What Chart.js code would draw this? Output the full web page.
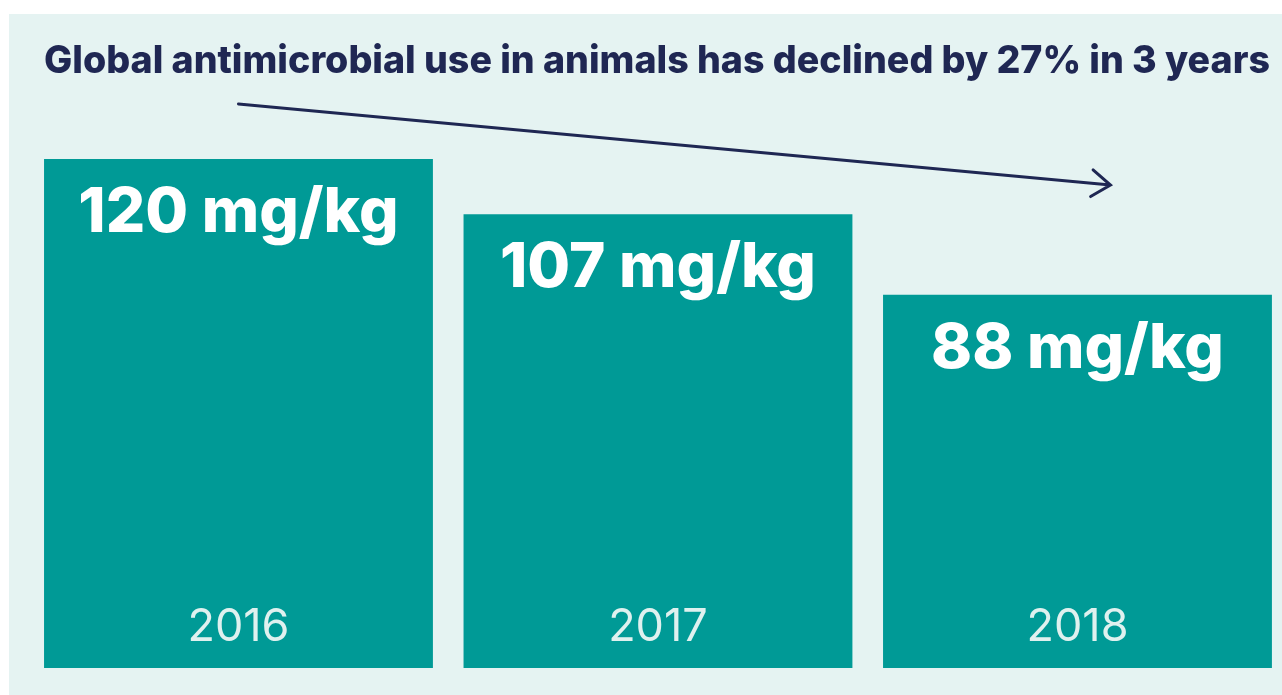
<!DOCTYPE html>
<html>
<head>
<meta charset="utf-8">
<script src="https://cdn.jsdelivr.net/npm/chart.js@4"></script>
<style>
  html, body { margin: 0; padding: 0; background: #ffffff; overflow: hidden; }
  #wrap { width: 1282px; height: 695px; position: relative; }
</style>
</head>
<body>
<div id="wrap"><canvas id="amuChart"></canvas></div>
<script>
const years = ["2016", "2017", "2018"];
const values = [120, 107, 88];
const unit = "mg/kg";
const title = "Global antimicrobial use in animals has declined by 27% in 3 years";

const navy = "#1f2753";
const teal = "#009a96";
const panel = "#e5f3f2";

// background panel, title, arrow and labels inside the bars
const decor = {
    id: "decor",
    beforeDraw(chart) {
        const ctx = chart.ctx;
        ctx.save();
        ctx.fillStyle = panel;
        ctx.fillRect(9, 14, chart.width - 9, chart.height - 14);
        ctx.restore();
    },
    afterDatasetsDraw(chart) {
        const ctx = chart.ctx;
        const area = chart.chartArea;
        const bars = chart.getDatasetMeta(0).data;
        ctx.save();

        // title, squeezed to the panel width
        ctx.fillStyle = navy;
        ctx.textBaseline = "alphabetic";
        ctx.textAlign = "left";
        ctx.font = "800 38px Inter";
        const w = ctx.measureText(title).width;
        const target = 1226;
        ctx.save();
        ctx.translate(44, 73);
        ctx.scale(target / w, 1);
        ctx.fillText(title, 0, 0);
        ctx.restore();

        // arrow
        const x0 = bars[0].x, y0 = area.top - 55;
        const x1 = bars[2].x + 33, y1 = area.top + 26;
        ctx.strokeStyle = navy;
        ctx.lineWidth = 3;
        ctx.lineCap = "round";
        ctx.beginPath();
        ctx.moveTo(x0, y0);
        ctx.lineTo(x1, y1);
        const ang = Math.atan2(y1 - y0, x1 - x0);
        const len = 23, spread = 0.62;
        ctx.moveTo(x1 - len * Math.cos(ang - spread), y1 - len * Math.sin(ang - spread));
        ctx.lineTo(x1, y1);
        ctx.lineTo(x1 - len * Math.cos(ang + spread), y1 - len * Math.sin(ang + spread));
        ctx.stroke();

        // value and year labels
        ctx.textAlign = "center";
        bars.forEach((bar, i) => {
            ctx.fillStyle = "#ffffff";
            ctx.font = "800 62px Inter";
            ctx.fillText(values[i] + " " + unit, bar.x, bar.y + 73);
            ctx.fillStyle = "#dff1ef";
            ctx.font = "400 45px Inter";
            ctx.fillText(years[i], bar.x, bar.base - 27);
        });
        ctx.restore();
    }
};

new Chart(document.getElementById("amuChart"), {
    type: "bar",
    data: {
        datasets: [{
            label: "Antimicrobial use (" + unit + ")",
            data: values.map((v, i) => ({ x: i, y: v })),
            backgroundColor: teal,
            borderWidth: 0,
            categoryPercentage: 1,
            barPercentage: 0.927
        }]
    },
    options: {
        responsive: true,
        maintainAspectRatio: false,
        animation: false,
        layout: { padding: { left: 44, right: 10, top: 159, bottom: 27 } },
        scales: {
            x: {
                type: "linear",
                offset: false,
                min: -0.4636,
                max: 2.4637,
                display: false,
                ticks: { callback: (v) => years[v] }
            },
            y: { min: 0, max: 120, display: false }
        },
        plugins: {
            legend: { display: false },
            tooltip: { enabled: false }
        }
    },
    plugins: [decor]
});
</script>
</body>
</html>
